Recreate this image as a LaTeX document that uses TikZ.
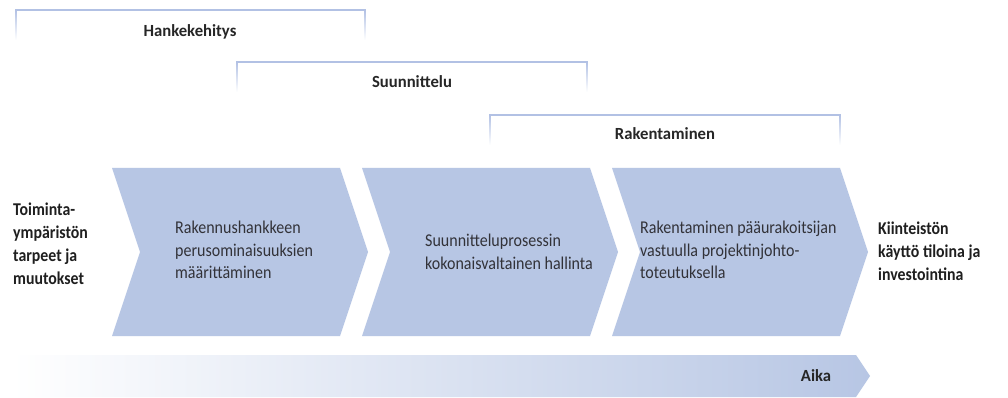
\documentclass[tikz,border=0pt]{standalone}
\usepackage{fontspec}
\setmainfont{Carlito}
\definecolor{chev}{RGB}{183,198,228}
\definecolor{brk}{RGB}{178,193,228}
\definecolor{txt}{RGB}{50,50,56}
\begin{document}
\begin{tikzpicture}[x=1pt,y=-1pt,
  body/.style={font=\fontsize{18}{22.5}\selectfont, xscale=0.89, text=txt, align=left, anchor=west, inner sep=0pt},
  headtxt/.style={font=\bfseries\fontsize{17}{20}\selectfont, xscale=0.98, text=black!85, inner sep=0pt},
  sidetxt/.style={font=\bfseries\fontsize{18}{23}\selectfont, xscale=0.88, text=black!88, align=left, anchor=west, inner sep=0pt},
  bracketline/.style={draw=brk, line width=1.8pt},
  chevshape/.style={fill=chev}]
\useasboundingbox[fill=white] (0,0) rectangle (1008,398);

% brackets
\foreach \l/\r/\t in {16/365/10, 237/587/62, 490/840/115}{
  \shade[top color=brk, bottom color=white] (\l-0.9,\t) rectangle (\l+0.9,\t+30);
  \shade[top color=brk, bottom color=white] (\r-0.9,\t) rectangle (\r+0.9,\t+30);
  \draw[bracketline] (\l-0.9,\t) -- (\r+0.9,\t);
}
\node[headtxt] (hk) at (190,32) {Hankekehitys};
\node[headtxt] (su) at (412,82) {Suunnittelu};
\node[headtxt] (ra) at (665,134) {Rakentaminen};

% chevrons
\foreach \L in {112,362,612}{
  \fill[chevshape] (\L,168) -- (\L+228,168) -- (\L+256,252) -- (\L+228,336) -- (\L,336) -- (\L+28,252) -- cycle;
}
\node[body] (c1) at (175,250) {Rakennushankkeen\\perusominaisuuksien\\määrittäminen};
\node[body] (c2) at (425,252) {Suunnitteluprosessin\\kokonaisvaltainen hallinta};
\node[body] (c3) at (640,250) {Rakentaminen pääurakoitsijan\\vastuulla projektinjohto-\\toteutuksella};

% side texts
\node[sidetxt] (lt) at (13,244) {Toiminta-\\ympäristön\\tarpeet ja\\muutokset};
\node[sidetxt] (rt) at (878,251) {Kiinteistön\\käyttö tiloina ja\\investointina};

% time bar
\shade[left color=white, right color=chev] (12,355) -- (856,355) -- (870,376) -- (856,397) -- (12,397) -- cycle;
\node[headtxt] (aika) at (816,376) {Aika};
\end{tikzpicture}
\end{document}
